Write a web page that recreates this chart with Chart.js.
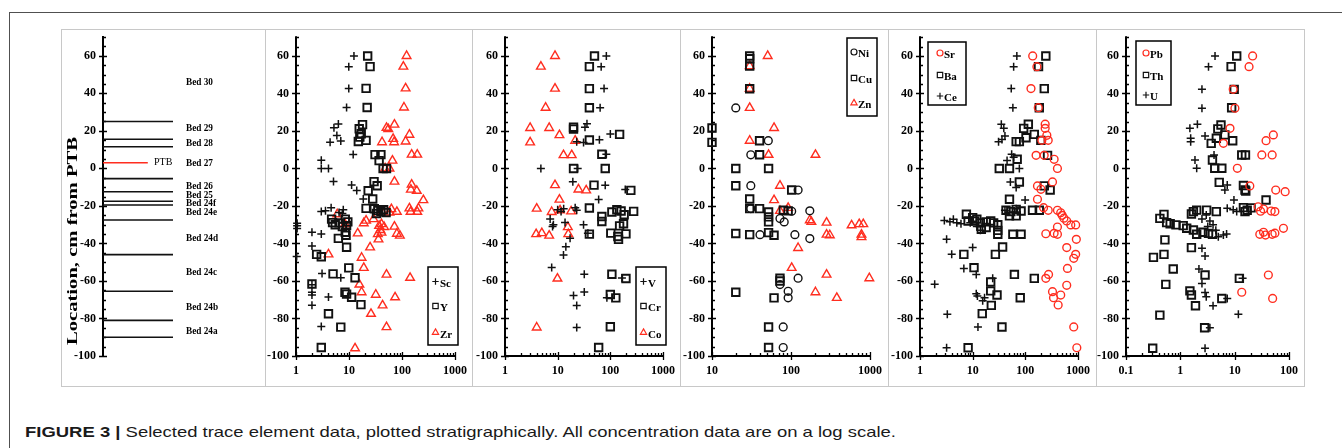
<!DOCTYPE html>
<html>
<head>
<meta charset="utf-8">
<title>Figure 3 - trace elements</title>
<script src="https://cdn.jsdelivr.net/npm/chart.js@4.4.1/dist/chart.umd.min.js"></script>
<style>
  html, body { margin: 0; padding: 0; background: #fff; }
  body { position: relative; width: 1342px; height: 448px; overflow: hidden; }
  .frame-top { position: absolute; left: 9px; top: 12px; width: 1333px; height: 1px; background: #505050; }
  .frame-left { position: absolute; left: 9px; top: 12px; width: 1px; height: 436px; background: #505050; }
  .box { position: absolute; top: 29px; height: 358px; box-sizing: border-box; border: 1px solid #c8c8c8; }
  canvas { position: absolute; }
  #caption { position: absolute; left: 25px; top: 423px; white-space: nowrap; transform-origin: 0 0;
             font-family: "Liberation Sans", Arial, sans-serif; font-size: 15px; color: #1a1a1a; }
  #caption b { font-weight: bold; }
</style>
</head>
<body>
<div class="frame-top"></div>
<div class="frame-left"></div>
<div id="caption"><b>FIGURE 3 |</b> Selected trace element data, plotted stratigraphically. All concentration data are on a log scale.</div>
<script>
// Stratigraphic column (cm from PTB)
const bedLines = [25, 15.5, 11.5, -5.5, -12.5, -17.5, -19.5, -27.5, -46, -65.5, -81, -90];
const ptbDepth = 3;
const bedNames = ['Bed 30', 'Bed 29', 'Bed 28', 'Bed 27', 'Bed 26', 'Bed 25', 'Bed 24f', 'Bed 24e', 'Bed 24d', 'Bed 24c', 'Bed 24b', 'Bed 24a'];
const bedLabelDepths = [45.8, 21.2, 13.2, 2.6, -9.5, -14.3, -18.3, -23.6, -37.1, -55.5, -74.1, -86.6];

// [concentration, location cm]
const Sc = [[12.4,60],[9.9,54.3],[9.9,42.7],[9,32.5],[6.3,23.7],[5.2,21.7],[5.9,17.6],[4.4,14],[7,14.6],[12,7.4],[3,4.4],[3,0],[4.1,0],[5.1,-7],[11.2,-8.8],[14,-11.7],[18.6,-16.3],[4.6,-21],[3,-23],[7.8,-22],[3.6,-22.5],[6.5,-23.5],[7.5,-24],[1.05,-29.2],[1.05,-30.5],[1.05,-32],[2,-34],[3,-35],[2,-41.4],[1.03,-47],[3.1,-56],[7,-58.3],[2,-62],[2,-66],[2,-67.5],[4.1,-68.5],[2,-73],[3,-84.3]];
const Y = [[22.5,60],[25,54.3],[21,42.7],[22,32.5],[18,23.4],[15.6,21.2],[17,18.5],[16,16.7],[15,14.4],[21,15],[31,7.4],[40,7.4],[37,4.2],[44,0],[51,0],[29.7,-7],[34,-9.2],[23,-11.9],[28,-16.3],[21,-21.3],[30,-21.5],[35,-22.5],[40,-23],[45,-22],[50,-23.5],[33,-24],[4.7,-27],[4.9,-28.9],[5.5,-30],[6.5,-29],[7.5,-31],[8.5,-27],[9.5,-28.5],[9,-30.5],[8.8,-35.6],[8.5,-34],[6.3,-37.3],[9,-42],[2.45,-45.8],[3,-47.1],[9.9,-53],[5,-56.2],[13,-58.3],[2,-61.6],[8.4,-66],[9,-67],[11.2,-68.7],[16.8,-72.6],[4.1,-77.5],[7,-84.6],[3,-95.5]];
const Zr = [[122,60],[106,54.3],[117,42.7],[109,32.5],[72,23.4],[51,21.7],[55,21],[138,18],[42,14],[71,14],[68,15.8],[117,14.4],[66,4.2],[152,7.4],[194,7.4],[48,0],[58,0],[72,-7],[152,-8.6],[147,-11.3],[190,-11.9],[253,-16.9],[138,-21.3],[204,-21.3],[145,-23.1],[194,-23.1],[80,-23.1],[63,-21.7],[58,-23.5],[42,-23],[6,-24.4],[8.4,-29.7],[21,-27.8],[19,-29.2],[29,-27],[37,-30.6],[41,-29.7],[46,-31.2],[39,-32.8],[72,-31],[14.6,-34.6],[35,-35],[41,-34.2],[91,-35.8],[80,-34.8],[36,-37.8],[25,-42.1],[4.1,-45.8],[17.3,-47.6],[19,-53],[51,-56.6],[142,-58.3],[15.7,-61.9],[17.3,-66],[32,-67.3],[74,-68.7],[43,-73],[26,-77.5],[51,-84.6],[13,-95.9]];

const V = [[84,60],[67,54.3],[76,42.6],[64,32.4],[36,23.8],[33,22],[100,18.4],[31,13.9],[23,14.3],[62,15.3],[84,7.6],[4.8,0],[24,0],[19.4,-7.1],[80,-8.9],[192,-11.2],[60,-16.6],[21.5,-21],[23,-22.3],[10,-22],[11.6,-22.9],[13,-21.5],[7.2,-27],[8.3,-30],[8,-31],[13.8,-28.8],[31,-30],[37.5,-34.5],[17.2,-37.2],[14.3,-41.7],[12.9,-46.2],[7.7,-52.8],[32,-56.4],[166,-58.4],[32,-65.9],[20,-67.7],[23,-73.1],[86,-69],[23,-84.8]];
const Cr = [[50,60],[40,54.3],[40,42.6],[40,32.4],[20,22],[20,21],[150,18.2],[40,15.2],[69,7.6],[20,0],[80,0],[49,-8.9],[245,-11.7],[40,-21.1],[69,-25.6],[69,-28.3],[107,-23.2],[133,-22],[160,-22.7],[183,-24.7],[277,-22.9],[150,-30.6],[178,-29.5],[40,-35],[102,-34.5],[139,-36.3],[198,-34.9],[143,-37.8],[107,-56.4],[198,-58.7],[100,-67.2],[127,-69],[100,-84.4],[60,-95.5]];
const Co = [[8.9,60],[4.8,54.3],[8.9,42.6],[5.9,32.4],[3,21.6],[6.9,21.6],[10.8,17.8],[3,13.9],[21.5,14.8],[12.9,7.1],[18.5,7.1],[8.9,-8.9],[24.8,-11.2],[34.8,-11.7],[10.8,-16.6],[4,-21.4],[7.7,-23.2],[11.1,-22.3],[18,-22.9],[15.6,-31.3],[3.9,-35],[5,-34.5],[6.9,-35.8],[15.9,-35],[9.9,-58.7],[4,-84.8]];

const Ni = [[20,32.3],[51.6,14.8],[31,7.3],[31,-9.2],[31,-21.4],[123,-11.5],[102,-22.8],[173,-22.6],[72.5,-26.7],[82,-28.5],[40.5,-35.3],[112,-35.3],[173,-37.4],[123,-58.5],[72.5,-61.9],[92,-65.5],[92,-69],[79.7,-84.5],[79.7,-95.5]];
const Cu = [[30,60],[30,58.5],[30,54.6],[30,42.5],[10,21.6],[10,13.9],[40,14.8],[40,7.3],[20,0],[52,0],[20,-9.2],[102,-11.5],[30,-16.3],[30,-21.4],[40,-21.4],[52,-23.2],[52,-25.8],[52,-28.5],[80,-22.3],[92,-22.6],[20,-34.7],[30,-35.3],[52,-34.2],[61,-35.6],[72.5,-58.5],[72.5,-60],[20,-66],[61,-69],[52,-84.5],[52,-95.5]];
const Zn = [[50.7,60],[30,54.6],[30,42.5],[30,32.3],[61,21.6],[30,14.8],[52,7.3],[204,7.3],[72.5,-9.2],[61,-16.9],[72.5,-22.6],[92,-21],[173,-27.6],[181,-28.5],[282,-28.9],[282,-35.3],[310,-35.6],[585,-30.3],[730,-29.7],[822,-29.7],[780,-35.3],[780,-36.6],[123,-42.4],[102,-53],[282,-56.6],[980,-58.5],[204,-66],[380,-69]];

const Sr = [[138,60],[166,54.3],[128,42.6],[176,32.4],[238,23.6],[238,21.4],[256,17.7],[272,15],[206,15],[160,7],[228,7],[352,4.9],[407,0],[328,-7.2],[170,-9.3],[198,-11.1],[170,-16.4],[222,-20.9],[272,-22.3],[407,-22.3],[470,-23.6],[500,-25],[540,-26.5],[611,-28],[730,-30.1],[903,-30.1],[407,-31.2],[352,-34.6],[245,-34.8],[407,-35.1],[930,-37.8],[611,-42.2],[903,-45.8],[830,-47.9],[630,-53.3],[611,-62.3],[276,-56.5],[245,-58.6],[328,-65.7],[343,-68.9],[470,-67.5],[420,-72.8],[830,-84.5],[950,-95.6]];
const Ba = [[245,60],[178,54.3],[229,42.6],[184,32.4],[114,23.6],[93,21.4],[148,18.2],[103,16.4],[67,14.3],[77,14.3],[197,15],[264,7],[70,4.9],[32,0],[50,0],[77,-7.2],[229,-9.3],[296,-11.5],[50,-16.4],[43,-22.3],[53,-23],[67,-21.8],[83,-22.7],[50,-25.3],[137,-22.3],[184,-22.3],[67,-25.3],[7.6,-24.4],[8.2,-28],[10,-26.2],[10.9,-28],[12,-27],[14,-29],[18,-28.5],[22,-28],[25,-29],[30,-30],[18,-31.5],[14.6,-32.4],[30,-35.1],[30,-33],[58,-35.1],[83,-35.1],[37,-41.9],[6.8,-45.8],[10.6,-52.9],[27,-45.8],[62,-56.5],[148,-58.6],[22,-60.5],[22,-65.3],[29,-67.5],[22.6,-73],[15.2,-77.4],[80,-68.9],[36,-84.5],[8.2,-95.6]];
const Ce = [[69,60],[60,54.3],[54,42.6],[58,32.4],[35,23.6],[39,21.4],[41,17.3],[31,14.3],[36,15.5],[55,7.6],[60,6],[45,4.3],[77,0],[52,-7.2],[67,-10.2],[99,-16.8],[41,-22.3],[67,-21.5],[2.9,-27.7],[3.7,-28.4],[4.3,-27.1],[5,-29],[6,-29.5],[9,-29],[12,-31],[14,-33],[3.2,-37.8],[4,-45.8],[6.8,-53.3],[10,-42.2],[11.7,-56.5],[1.9,-61.8],[24,-58.6],[11.7,-66.8],[12.3,-68],[16.8,-68.9],[15.5,-70.5],[3.3,-77.8],[12.6,-84.5],[3.2,-95.6]];

const Pb = [[21.4,60],[18.4,54.3],[9.4,42.2],[10.1,32.1],[8.2,21.4],[6.2,13.4],[37.8,14.8],[51.5,17.9],[31.6,7.2],[49,7.2],[11.2,0.1],[19,-9.3],[57,-11.5],[85,-12.4],[27,-20.4],[34,-21.6],[47,-22.7],[55,-23],[30,-22.8],[34,-34],[29,-35.1],[37,-35.5],[49,-35.1],[55,-34.5],[79,-31.9],[41.7,-56.8],[13.5,-66],[50,-69.3]];
const Th = [[10.9,60],[8.6,54.3],[9.8,42.2],[8.8,32.4],[5.6,23.2],[4.9,21.1],[6.6,17.9],[9.2,14.8],[3.7,13.4],[4.6,16.1],[13.5,7.2],[15.8,7.2],[3.9,4.5],[4.3,0.1],[5.8,0.1],[5.2,-7.4],[14.5,-9.1],[15.5,-11.5],[16,-12],[37.8,-16.8],[14.5,-20.9],[20,-21],[17,-22.3],[15.5,-23],[3.05,-22.2],[4.6,-23],[2,-22.2],[1.74,-23],[1.6,-24.3],[0.42,-26.6],[0.5,-24.5],[0.56,-28.9],[0.65,-29.5],[0.83,-30.1],[1.13,-30.5],[1.31,-31.9],[1.74,-32.8],[2,-35.1],[2.6,-34],[3.9,-35.1],[3.3,-34.6],[0.52,-38.1],[1.6,-42.2],[0.5,-45.8],[0.32,-47.4],[0.74,-53.6],[2.85,-56.8],[12.2,-58.6],[0.54,-61.8],[1.5,-65.3],[1.6,-67.5],[1.9,-73.2],[5.8,-69.3],[0.42,-78.2],[2.8,-84.9],[0.31,-95.9]];
const U = [[4.35,60],[3.3,54.3],[2.5,42.2],[2.5,32.1],[2.06,23.6],[1.5,21.4],[1.55,16.1],[1.55,14.3],[2.85,17.3],[4.17,7.2],[1.86,4.5],[2,0.1],[7.3,-8.8],[6.6,-11.5],[9.7,-16.8],[7.3,-21.2],[9.4,-22],[10.9,-23],[3,-24.8],[2.5,-27],[3.5,-28],[4,-30],[3.2,-31],[4.5,-33],[6.2,-35.5],[7.1,-35],[5,-36.4],[2.5,-42.6],[2.85,-46.7],[2.2,-53.6],[14,-58.6],[2.5,-61.3],[2.85,-66.1],[3,-68.4],[4,-73.2],[7.3,-69.3],[11.7,-77.8],[3.5,-84.9],[2.85,-95.9]];

// ---------------------------------------------------------------------
const RED = '#ff2d1f';
const BLACK = '#111';
const TOP = 30, H = 355;
const tickFont = { family: 'Liberation Serif', weight: 'bold', size: 12 };
const serif = '"Liberation Serif", "Times New Roman", serif';

function drawSymbol(ctx, style, x, y, r) {
    ctx.beginPath();
    if (style === 'cross') {
        ctx.moveTo(x - r, y); ctx.lineTo(x + r, y);
        ctx.moveTo(x, y - r); ctx.lineTo(x, y + r);
    } else if (style === 'rect') {
        const s = r * Math.SQRT1_2;
        ctx.rect(x - s, y - s, 2 * s, 2 * s);
    } else if (style === 'triangle') {
        ctx.moveTo(x, y - r);
        ctx.lineTo(x + r * 0.866, y + r / 2);
        ctx.lineTo(x - r * 0.866, y + r / 2);
        ctx.closePath();
    } else {
        ctx.arc(x, y, r, 0, Math.PI * 2);
    }
    ctx.stroke();
}

// axis lines with major/minor ticks, drawn from the chart's scales
const axesPlugin = {
    id: 'axes',
    beforeDatasetsDraw(chart, args, o) {
        const { ctx, chartArea: a } = chart;
        const x = chart.scales.x, y = chart.scales.y;
        ctx.save();
        ctx.strokeStyle = '#000';
        ctx.lineWidth = 2;
        ctx.beginPath();
        ctx.moveTo(a.left, a.top - 1);
        ctx.lineTo(a.left, a.bottom + 1);
        if (o.xAxis) {
            ctx.moveTo(a.left - 1, a.bottom);
            ctx.lineTo(a.right + 1, a.bottom);
        }
        ctx.stroke();

        ctx.lineWidth = 1.3;
        ctx.beginPath();
        for (let v = y.min; v <= y.max + 1e-6; v += 5) {
            const py = Math.round(y.getPixelForValue(v)) + 0.5;
            const major = Math.round(v - y.min) % 20 === 0;
            ctx.moveTo(a.left - (major ? 4 : 0), py);
            ctx.lineTo(a.left + (major ? 4 : 3), py);
        }
        if (o.xAxis) {
            const d0 = Math.round(Math.log10(x.min)), d1 = Math.round(Math.log10(x.max));
            for (let d = d0; d <= d1; d++) {
                for (let m = 1; m <= 9; m++) {
                    const v = m * Math.pow(10, d);
                    if (v > x.max * 1.0001) break;
                    const px = Math.round(x.getPixelForValue(v)) + 0.5;
                    ctx.moveTo(px, a.bottom - (m === 1 ? 4 : 3));
                    ctx.lineTo(px, a.bottom + (m === 1 ? 4 : 0));
                }
            }
        }
        ctx.stroke();
        ctx.restore();
    }
};

// boxed legend inside the plot
const legendPlugin = {
    id: 'boxLegend',
    afterDatasetsDraw(chart, args, o) {
        if (!o.items) return;
        const ctx = chart.ctx;
        const ox = o.offset, oy = TOP;
        const [bx, by, bw, bh] = o.box;
        ctx.save();
        ctx.fillStyle = '#fff';
        ctx.fillRect(bx - ox, by - oy, bw, bh);
        ctx.strokeStyle = '#000';
        ctx.lineWidth = 1.5;
        ctx.strokeRect(bx - ox, by - oy, bw, bh);
        const sizes = { cross: 3.2, rect: 3.8, triangle: 3.6, circle: 3 };
        o.items.forEach((it, i) => {
            const py = o.rows[i] - oy;
            ctx.strokeStyle = it.color;
            ctx.lineWidth = 1.2;
            drawSymbol(ctx, it.style, o.symX - ox, py, sizes[it.style]);
            ctx.fillStyle = '#000';
            ctx.font = 'bold 11px ' + serif;
            ctx.textBaseline = 'middle';
            ctx.fillText(it.label, o.textX - ox, py + 2.5);
        });
        ctx.restore();
    }
};

// bed names, PTB marker label and axis title for the column
const stratPlugin = {
    id: 'strat',
    afterDatasetsDraw(chart, args, o) {
        if (!o.on) return;
        const ctx = chart.ctx, y = chart.scales.y;
        ctx.save();
        ctx.fillStyle = '#000';
        ctx.textBaseline = 'middle';
        ctx.font = 'bold 11px ' + serif;
        bedNames.forEach((name, i) => {
            ctx.save();
            ctx.translate(o.labelX, y.getPixelForValue(bedLabelDepths[i]));
            ctx.scale(0.84, 1);
            ctx.fillText(name, 0, 0);
            ctx.restore();
        });
        ctx.font = '10px ' + serif;
        ctx.fillText('PTB', o.ptbX, y.getPixelForValue(ptbDepth));

        const title = 'Location, cm from PTB';
        ctx.font = 'bold 14px ' + serif;
        const w = ctx.measureText(title).width;
        ctx.translate(o.titleX, o.titleY);
        ctx.rotate(-Math.PI / 2);
        ctx.scale(o.titleLen / w, 1);
        ctx.textAlign = 'center';
        ctx.fillText(title, 0, 0);
        ctx.restore();
    }
};

function series(data, style, color) {
    const radius = { cross: 4, rect: 5.3, triangle: 5, circle: 3.9 };
    const width = { cross: 1.5, rect: 1.9, triangle: 1.4, circle: 1.4 };
    return {
        data: data.map(([x, y]) => ({ x, y })),
        pointStyle: style,
        pointRadius: radius[style],
        pointBorderWidth: width[style],
        pointBorderColor: color,
        borderColor: color,
        pointBackgroundColor: 'rgba(0,0,0,0)',
        backgroundColor: 'rgba(0,0,0,0)',
        clip: false
    };
}

function depthScale(axisWidth) {
    return {
        type: 'linear', min: -100, max: 70,
        grid: { display: false, drawTicks: false },
        border: { display: false },
        ticks: { stepSize: 20, includeBounds: false, autoSkip: false, padding: 7, color: '#000', font: tickFont },
        afterFit(s) { s.width = axisWidth; s.paddingTop = 0; s.paddingBottom = 0; }
    };
}

function concScale(min, max) {
    return {
        type: 'logarithmic', min, max,
        grid: { display: false, drawTicks: false },
        border: { display: false },
        ticks: {
            autoSkip: false, maxRotation: 0, padding: 8, color: '#000', font: tickFont,
            callback: v => {
                const l = Math.log10(v);
                return Math.abs(l - Math.round(l)) < 1e-6 ? String(Math.round(v * 10) / 10) : '';
            }
        },
        afterFit(s) { s.height = 29; s.paddingLeft = 0; s.paddingRight = 0; }
    };
}

function makeCanvas(box) {
    const c = document.createElement('canvas');
    const left = box[0] + 1, width = box[1] - box[0] - 1;
    c.width = width; c.height = H;
    c.style.left = left + 'px'; c.style.top = TOP + 'px';
    c.style.width = width + 'px'; c.style.height = H + 'px';
    document.body.appendChild(c);
    return { c, left, right: left + width };
}

function addBox(box) {
    const d = document.createElement('div');
    d.className = 'box';
    d.style.left = box[0] + 'px';
    d.style.width = (box[1] - box[0] + 1) + 'px';
    document.body.appendChild(d);
}

const plugins = [axesPlugin, legendPlugin, stratPlugin];

// ---- panel 1: stratigraphic column ----
(function () {
    const box = [61, 265], plotLeft = 103, plotRight = 173;
    addBox(box);
    const { c, left, right } = makeCanvas(box);
    const datasets = bedLines.map(d => ({
        data: [{ x: 0, y: d }, { x: 1, y: d }],
        showLine: true, borderColor: BLACK, borderWidth: 1.6, pointRadius: 0, clip: false
    }));
    datasets.push({
        data: [{ x: 0, y: ptbDepth }, { x: 0.64, y: ptbDepth }],
        showLine: true, borderColor: RED, borderWidth: 1.6, pointRadius: 0, clip: false
    });
    new Chart(c, {
        type: 'scatter',
        data: { datasets },
        options: {
            responsive: false, animation: false, events: [],
            layout: { padding: { left: 0, right: right - plotRight, top: 7, bottom: 29 } },
            plugins: {
                legend: { display: false }, tooltip: { enabled: false },
                axes: { xAxis: false },
                strat: { on: true, labelX: 186 - left, ptbX: 154 - left, titleX: 73 - left, titleY: 241 - TOP, titleLen: 208 }
            },
            scales: {
                x: { type: 'linear', min: 0, max: 1, display: false },
                y: depthScale(plotLeft - left)
            }
        },
        plugins
    });
})();

// ---- element panels ----
const panels = [
    { box: [265, 472], plot: [296, 455], range: [1, 1000],
      series: [[Sc, 'cross', BLACK, 'Sc'], [Y, 'rect', BLACK, 'Y'], [Zr, 'triangle', RED, 'Zr']],
      legend: { box: [428, 267, 30, 78], rows: [281.5, 306, 332.5], symX: 435.5, textX: 440 } },
    { box: [472, 680], plot: [505, 663], range: [1, 1000],
      series: [[V, 'cross', BLACK, 'V'], [Cr, 'rect', BLACK, 'Cr'], [Co, 'triangle', RED, 'Co']],
      legend: { box: [636, 267, 30, 78], rows: [281.5, 306, 332.5], symX: 643.5, textX: 648 } },
    { box: [680, 888], plot: [712, 870], range: [10, 1000],
      series: [[Ni, 'circle', BLACK, 'Ni'], [Cu, 'rect', BLACK, 'Cu'], [Zn, 'triangle', RED, 'Zn']],
      legend: { box: [847, 38, 30, 78], rows: [52, 78, 103], symX: 854, textX: 858 } },
    { box: [888, 1096], plot: [920, 1078], range: [1, 1000],
      series: [[Sr, 'circle', RED, 'Sr'], [Ba, 'rect', BLACK, 'Ba'], [Ce, 'cross', BLACK, 'Ce']],
      legend: { box: [928, 42, 38, 63], rows: [53, 75, 96], symX: 940, textX: 944 } },
    { box: [1096, 1304], plot: [1126, 1289], range: [0.1, 100],
      series: [[Pb, 'circle', RED, 'Pb'], [Th, 'rect', BLACK, 'Th'], [U, 'cross', BLACK, 'U']],
      legend: { box: [1136, 41, 35, 64], rows: [53, 75, 95], symX: 1146, textX: 1150 } }
];

panels.forEach(p => {
    addBox(p.box);
    const { c, left, right } = makeCanvas(p.box);
    new Chart(c, {
        type: 'scatter',
        data: { datasets: p.series.map(([d, style, color]) => series(d, style, color)) },
        options: {
            responsive: false, animation: false, events: [],
            layout: { padding: { left: 0, right: right - p.plot[1], top: 7, bottom: 0 } },
            plugins: {
                legend: { display: false }, tooltip: { enabled: false },
                axes: { xAxis: true },
                boxLegend: Object.assign({ offset: left, items: p.series.map(([, style, color, label]) => ({ style, color, label })) }, p.legend)
            },
            scales: {
                x: concScale(p.range[0], p.range[1]),
                y: depthScale(p.plot[0] - left)
            }
        },
        plugins
    });
});

// fit caption to its width in the figure
(function () {
    const cap = document.getElementById('caption');
    const w = cap.getBoundingClientRect().width;
    cap.style.transform = 'scaleX(' + (871 / w) + ')';
})();
</script>
</body>
</html>
